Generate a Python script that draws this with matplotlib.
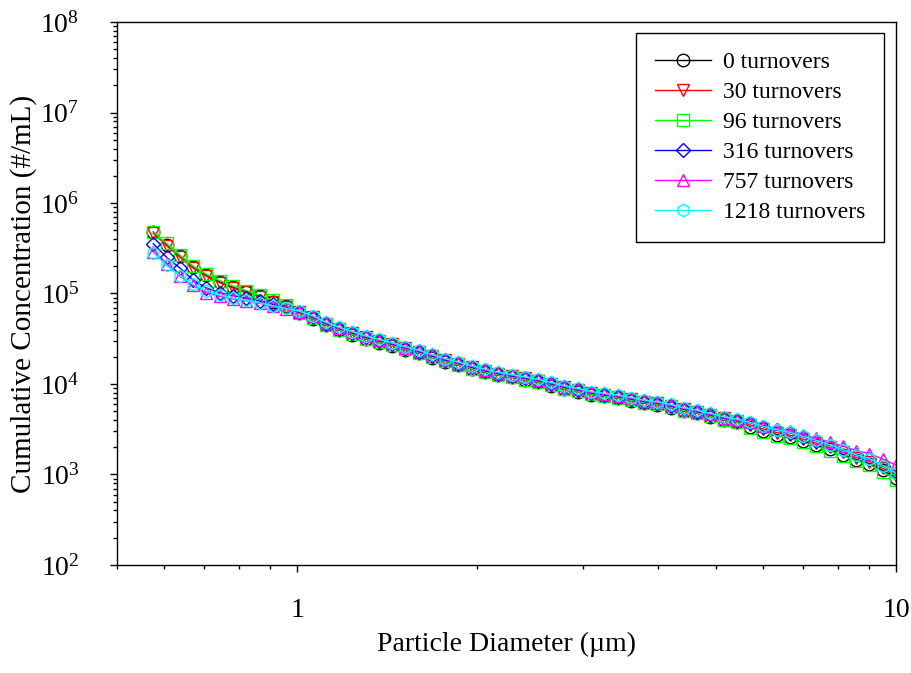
import matplotlib
matplotlib.use("Agg")
import matplotlib.pyplot as plt
from matplotlib.ticker import LogLocator, NullFormatter

plt.rcParams['font.family'] = ['Liberation Serif', 'DejaVu Serif']

# particle diameter channels (um)
diameter = [0.575, 0.605, 0.637, 0.670, 0.705, 0.742, 0.781, 0.822, 0.865, 0.910,
            0.958, 1.008, 1.061, 1.116, 1.175, 1.236, 1.301, 1.369, 1.441, 1.516,
            1.595, 1.679, 1.767, 1.859, 1.956, 2.059, 2.166, 2.280, 2.399, 2.524,
            2.656, 2.795, 2.941, 3.095, 3.257, 3.428, 3.607, 3.796, 3.994, 4.203,
            4.423, 4.655, 4.898, 5.154, 5.424, 5.708, 6.006, 6.321, 6.651, 6.999,
            7.366, 7.751, 8.156, 8.583, 9.032, 9.505, 10.0]

# cumulative concentration (#/mL) per run
conc_0 = [479000, 347000, 257000, 195000, 158500, 135000, 117500, 104700, 93300, 81300,
          72400, 60600, 52400, 44600, 39200, 35000, 31500, 28700, 26400, 23800,
          21900, 19600, 17700, 16100, 14700, 13400, 12500, 11800, 11100, 10400,
          9600, 8810, 8250, 7620, 7290, 6950, 6550, 6120, 5880, 5480,
          5040, 4740, 4360, 4010, 3770, 3340, 3010, 2760, 2590, 2330,
          2110, 1890, 1660, 1460, 1320, 1110, 910]
conc_30 = [462000, 338000, 252000, 191000, 155000, 132000, 115000, 102600, 91400, 79700,
           71000, 63100, 54600, 46500, 40800, 36500, 32800, 29900, 27500, 24800,
           22800, 20400, 18400, 16800, 15300, 14000, 13000, 12250, 11560, 10860,
           10000, 9180, 8590, 7940, 7590, 7240, 6820, 6380, 6120, 5710,
           5250, 4940, 4540, 4180, 3930, 3520, 3180, 2910, 2720, 2460,
           2220, 1990, 1750, 1540, 1390, 1170, 970]
conc_96 = [479000, 357000, 265000, 201000, 163000, 139000, 121000, 107800, 96100, 83700,
           74600, 61200, 53000, 45100, 39600, 35400, 31800, 29000, 26700, 24100,
           22100, 19800, 17800, 16300, 14800, 13600, 12600, 11900, 11200, 10500,
           9700, 8900, 8330, 7700, 7360, 7020, 6620, 6190, 5940, 5540,
           5090, 4790, 4400, 4050, 3810, 3260, 2920, 2670, 2500, 2260,
           2040, 1830, 1610, 1410, 1280, 1070, 870]
conc_316 = [355000, 251000, 191000, 141000, 115000, 102000, 95000, 89000, 83000, 76000,
            69000, 62000, 54600, 46500, 40800, 36500, 32800, 29900, 27500, 24800,
            22800, 20400, 18400, 16800, 15300, 14000, 13000, 12250, 11560, 10860,
            10000, 9180, 8590, 7940, 7590, 7240, 6820, 6380, 6120, 5710,
            5250, 4940, 4540, 4180, 3930, 3730, 3370, 3090, 2890, 2610,
            2360, 2110, 1860, 1630, 1480, 1240, 1040]
conc_757 = [288000, 214000, 155000, 123000, 102000, 93000, 87000, 83000, 78000, 72000,
            68000, 63000, 55700, 47400, 41600, 37200, 33500, 30500, 28100, 25300,
            23300, 20800, 18800, 17100, 15600, 14300, 13300, 12500, 11800, 11100,
            10200, 9360, 8760, 8100, 7740, 7380, 6960, 6510, 6240, 5820,
            5360, 5040, 4630, 4260, 4010, 3770, 3430, 3180, 3000, 2760,
            2520, 2290, 2060, 1840, 1700, 1480, 1270]
conc_1218 = [282000, 204000, 158000, 126000, 107000, 96000, 89000, 84000, 79000, 73000,
             68500, 64000, 56800, 48400, 42400, 38000, 34100, 31100, 28600, 25800,
             23700, 21200, 19100, 17500, 15900, 14600, 13500, 12700, 12000, 11300,
             10400, 9550, 8930, 8260, 7890, 7530, 7090, 6640, 6360, 5940,
             5460, 5140, 4720, 4350, 4090, 3770, 3400, 3120, 2920, 2640,
             2380, 2130, 1880, 1650, 1490, 1250, 1040]

labels = ['0 turnovers', '30 turnovers', '96 turnovers', '316 turnovers',
          '757 turnovers', '1218 turnovers']
series = [conc_0, conc_30, conc_96, conc_316, conc_757, conc_1218]
colors = ['#000000', '#ff0000', '#00ff00', '#0000ff', '#ff00ff', '#00ffff']
markers = ['o', 'v', 's', 'D', '^', 'h']

fig = plt.figure(figsize=(9.11, 6.73), dpi=100)
ax = fig.add_axes([0.1284, 0.1605, 0.8551, 0.8068])

for y, lab, c, m in zip(series, labels, colors, markers):
    ax.plot(diameter, y, color=c, lw=1.0, marker=m, markersize=9 if m != 'D' else 7.5,
            markerfacecolor='none', markeredgecolor=c, markeredgewidth=1.0, label=lab)

ax.set_xscale('log')
ax.set_yscale('log')
ax.set_xlim(0.5, 10)
ax.set_ylim(1e2, 1e8)

ax.set_xticks([1, 10])
ax.set_xticklabels(['1', '10'])
ax.xaxis.set_minor_locator(LogLocator(base=10, subs=range(2, 10)))
ax.xaxis.set_minor_formatter(NullFormatter())
ax.yaxis.set_major_locator(LogLocator(base=10, numticks=10))
ax.yaxis.set_minor_locator(LogLocator(base=10, subs=range(2, 10), numticks=20))
ax.yaxis.set_minor_formatter(NullFormatter())

ax.tick_params(axis='both', which='major', direction='out', length=5, width=1.0,
               labelsize=20, colors='black')
ax.tick_params(axis='both', which='minor', direction='out', length=3, width=1.0)
ax.tick_params(axis='x', which='major', pad=19)
ax.tick_params(axis='y', which='major', pad=22)

for spine in ax.spines.values():
    spine.set_linewidth(1.0)
    spine.set_edgecolor('black')

ax.set_xlabel('Particle Diameter (\u00b5m)', fontsize=20, labelpad=6)
ax.set_ylabel('Cumulative Concentration (#/mL)', fontsize=21, labelpad=2)

leg = ax.legend(loc='upper right', bbox_to_anchor=(0.985, 0.98), borderaxespad=0,
                fontsize=17, frameon=True, fancybox=False, framealpha=1,
                edgecolor='black', handlelength=2.4, handletextpad=0.5,
                labelspacing=0.36, borderpad=0.8)
leg.get_frame().set_linewidth(1.0)

plt.savefig('out.png', dpi=100, facecolor='white')
